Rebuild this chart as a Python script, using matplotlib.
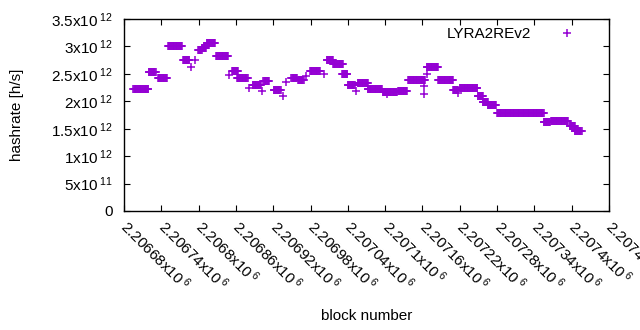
import numpy as np
import matplotlib
matplotlib.use("Agg")
import matplotlib.pyplot as plt
from matplotlib.ticker import FixedLocator, FuncFormatter

plt.rcParams['font.family'] = ['Liberation Sans', 'DejaVu Sans']
plt.rcParams['mathtext.fontset'] = 'custom'
plt.rcParams['mathtext.rm'] = 'Liberation Sans'
plt.rcParams['mathtext.it'] = 'Liberation Sans'
plt.rcParams['mathtext.bf'] = 'Liberation Sans'

# runs of blocks with the same hashrate (first block, last block, hashrate)
seg_start = [2206695, 2206720, 2206735, 2206751, 2206775, 2206799, 2206805, 2206813,
             2206828, 2206854, 2206862, 2206887, 2206904, 2206921, 2206949, 2206960,
             2206979, 2207006, 2207016, 2207031, 2207040, 2207056, 2207072, 2207096,
             2207121, 2207137, 2207167, 2207185, 2207209, 2207220, 2207249, 2207257,
             2207265, 2207280, 2207355, 2207367, 2207397, 2207405]
seg_end = [2206719, 2206731, 2206749, 2206773, 2206785, 2206805, 2206812, 2206826,
           2206847, 2206863, 2206879, 2206900, 2206913, 2206932, 2206958, 2206969,
           2206995, 2207016, 2207032, 2207039, 2207051, 2207072, 2207095, 2207119,
           2207135, 2207164, 2207185, 2207209, 2207217, 2207248, 2207257, 2207265,
           2207278, 2207355, 2207365, 2207394, 2207405, 2207416]
seg_value = [2.233, 2.525, 2.419, 3.002, 2.747, 2.930, 2.977, 3.068,
             2.820, 2.552, 2.419, 2.302, 2.370, 2.200, 2.424, 2.383,
             2.557, 2.753, 2.674, 2.497, 2.291, 2.333, 2.218, 2.169,
             2.193, 2.388, 2.630, 2.388, 2.206, 2.237, 2.090, 1.992,
             1.927, 1.781, 1.617, 1.635, 1.549, 1.458]

# single blocks off the runs
pt_block = [2206788, 2206794, 2206849, 2206881, 2206902, 2206936, 2206940, 2206973,
            2207002, 2207053, 2207103, 2207162, 2207162, 2207167, 2207217]
pt_value = [2.625, 2.750, 2.485, 2.248, 2.193, 2.090, 2.357, 2.455,
            2.497, 2.193, 2.127, 2.279, 2.133, 2.497, 2.146]

xticks = np.arange(2206680, 2207461, 60)
yticks = [0, 0.5e12, 1e12, 1.5e12, 2e12, 2.5e12, 3e12, 3.5e12]
ytick_labels = ['0', '5x10$^{\\;11}$', '1x10$^{\\;12}$', '1.5x10$^{\\;12}$', '2x10$^{\\;12}$',
                '2.5x10$^{\\;12}$', '3x10$^{\\;12}$', '3.5x10$^{\\;12}$']

blocks = []
rates = []
for s, e, v in zip(seg_start, seg_end, seg_value):
    b = np.arange(s, e + 1)
    blocks.extend(b)
    rates.extend([v * 1e12] * len(b))
blocks.extend(pt_block)
rates.extend([v * 1e12 for v in pt_value])

fs = 11
fig = plt.figure(figsize=(6.4, 3.3), dpi=100)
ax = fig.add_axes([124 / 640, 1 - 211 / 330, 485 / 640, 192 / 330])

ax.plot(blocks, rates, linestyle='none', marker='+', markersize=5.5, markeredgewidth=1.1,
        color='#9400d3', label='LYRA2REv2')

ax.set_xlim(2206680, 2207460)
ax.set_ylim(0, 3.5e12)

ax.xaxis.set_major_locator(FixedLocator(xticks))
ax.xaxis.set_major_formatter(FuncFormatter(lambda v, p: '%gx10$^{\\;6}$' % (v / 1e6)))
ax.set_yticks(yticks)
ax.set_yticklabels(ytick_labels)

ax.tick_params(direction='in', length=4.5, width=0.8, top=True, right=True,
               labelsize=fs, colors='black')
ax.tick_params(axis='y', pad=8)
ax.tick_params(axis='x', pad=9)
for lab in ax.get_xticklabels():
    lab.set_rotation(-45)
    lab.set_ha('left')
    lab.set_va('center')
    lab.set_rotation_mode('anchor')
for sp in ax.spines.values():
    sp.set_linewidth(1.0)

ax.set_xlabel('block number', fontsize=fs, va='center')
ax.xaxis.set_label_coords(0.5, (211 - 316) / 192)
ax.set_ylabel('hashrate [h/s]', fontsize=fs, va='center')
ax.yaxis.set_label_coords((17 - 124) / 485, 0.5)

ax.legend(loc='upper right', bbox_to_anchor=((588 - 124) / 485, 0.99), markerfirst=False,
          frameon=False, fontsize=fs, handlelength=2.0, handletextpad=1.35,
          borderaxespad=0, borderpad=0.4)

fig.savefig('out.png', dpi=100)
